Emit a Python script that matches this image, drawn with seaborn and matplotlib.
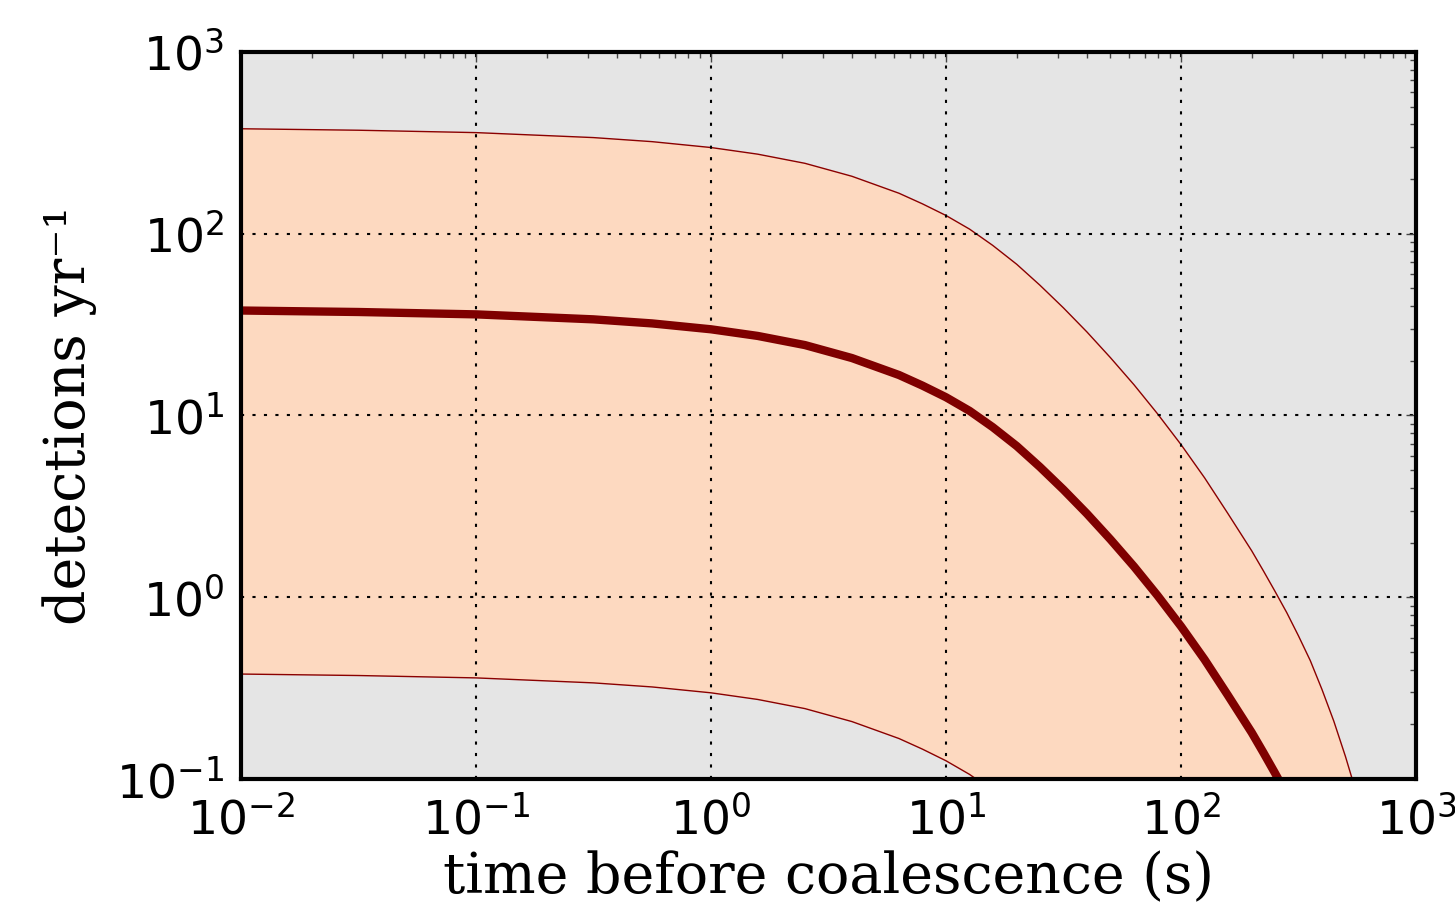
import matplotlib
matplotlib.use("Agg")
import matplotlib.pyplot as plt
import numpy as np
import pandas as pd
import seaborn as sns

# values (seconds before coalescence, detections per year)
t_sec = [0.01, 0.0316, 0.1, 0.316, 0.562, 1, 1.58, 2.51, 3.98, 6.31, 7.94,
         10, 12.6, 15.8, 20.0, 25.1, 31.6, 39.8, 50.1, 63.1, 79.4, 100, 126,
         158, 200, 224, 251, 282, 316, 355, 398, 447, 501, 562, 631]
rate_median = [37.8, 37.1, 36.0, 33.8, 32.1, 29.8, 27.4, 24.4, 20.7, 16.7,
               14.6, 12.6, 10.6, 8.63, 6.79, 5.21, 3.91, 2.88, 2.08, 1.476,
               1.023, 0.692, 0.454, 0.290, 0.180, 0.140, 0.108, 0.0822,
               0.0614, 0.0448, 0.0311, 0.0208, 0.0133, 0.0081, 0.0047]
rate_upper = [378, 371, 360, 338, 321, 298, 274, 244, 207, 167, 146, 126, 106,
              86.3, 67.9, 52.1, 39.1, 28.8, 20.8, 14.76, 10.23, 6.92, 4.54,
              2.90, 1.80, 1.40, 1.08, 0.822, 0.614, 0.448, 0.311, 0.208,
              0.133, 0.081, 0.047]
rate_lower = [0.378, 0.371, 0.360, 0.338, 0.321, 0.298, 0.274, 0.244, 0.207,
              0.167, 0.146, 0.126, 0.106, 0.0863, 0.0679, 0.0521, 0.0391,
              0.0288, 0.0208, 0.01476, 0.01023, 0.00692, 0.00454, 0.00290,
              0.00180, 0.00140, 0.00108, 0.000822, 0.000614, 0.000448,
              0.000311, 0.000208, 0.000133, 0.000081, 0.000047]

df = pd.DataFrame({'t': t_sec, 'median': rate_median,
                   'upper': rate_upper, 'lower': rate_lower})

sns.set_theme(style="white")
plt.rcParams['font.family'] = ['DejaVu Sans']
plt.rcParams['mathtext.fontset'] = 'dejavusans'
plt.rcParams['text.color'] = 'black'
plt.rcParams['axes.labelcolor'] = 'black'

fig = plt.figure(figsize=(14.55, 9.18), dpi=100)
ax = fig.add_axes([0.1656, 0.1514, 0.8076, 0.792])
ax.set_facecolor('#e5e5e5')
ax.set_xscale('log')
ax.set_yscale('log')

# shaded band between lower and upper
ax.fill_between(df.t, df.lower, df.upper, color='#fdd9c0', linewidth=0, zorder=1)
sns.lineplot(data=df, x='t', y='upper', ax=ax, color='#8b0000', lw=1.0,
             sort=False, estimator=None, zorder=2)
sns.lineplot(data=df, x='t', y='lower', ax=ax, color='#8b0000', lw=1.0,
             sort=False, estimator=None, zorder=2)
sns.lineplot(data=df, x='t', y='median', ax=ax, color='#7f0000', lw=6,
             sort=False, estimator=None, zorder=3)

ax.set_xlim(1e-2, 1e3)
ax.set_ylim(1e-1, 1e3)

ax.grid(True, which='major', color='black', lw=1.5, linestyle=(0, (1.5, 4)))
ax.set_axisbelow(False)
for sp in ax.spines.values():
    sp.set_linewidth(3)
    sp.set_color('black')
    sp.set_zorder(5)

ax.tick_params(which='both', direction='in', top=True, right=True,
               color='#444444', labelcolor='black')
ax.tick_params(which='major', length=7, width=1)
ax.tick_params(which='minor', length=4, width=1)
ax.tick_params(axis='x', which='major', labelsize=34, pad=13)
ax.tick_params(axis='y', which='major', labelsize=34, pad=12)

ax.set_xlabel('time before coalescence (s)', family='DejaVu Serif',
              fontsize=40, labelpad=4)
ax.set_ylabel('detections yr\u207b\u00b9', family='DejaVu Serif',
              fontsize=40, labelpad=14)

fig.savefig('out.png', dpi=100)
